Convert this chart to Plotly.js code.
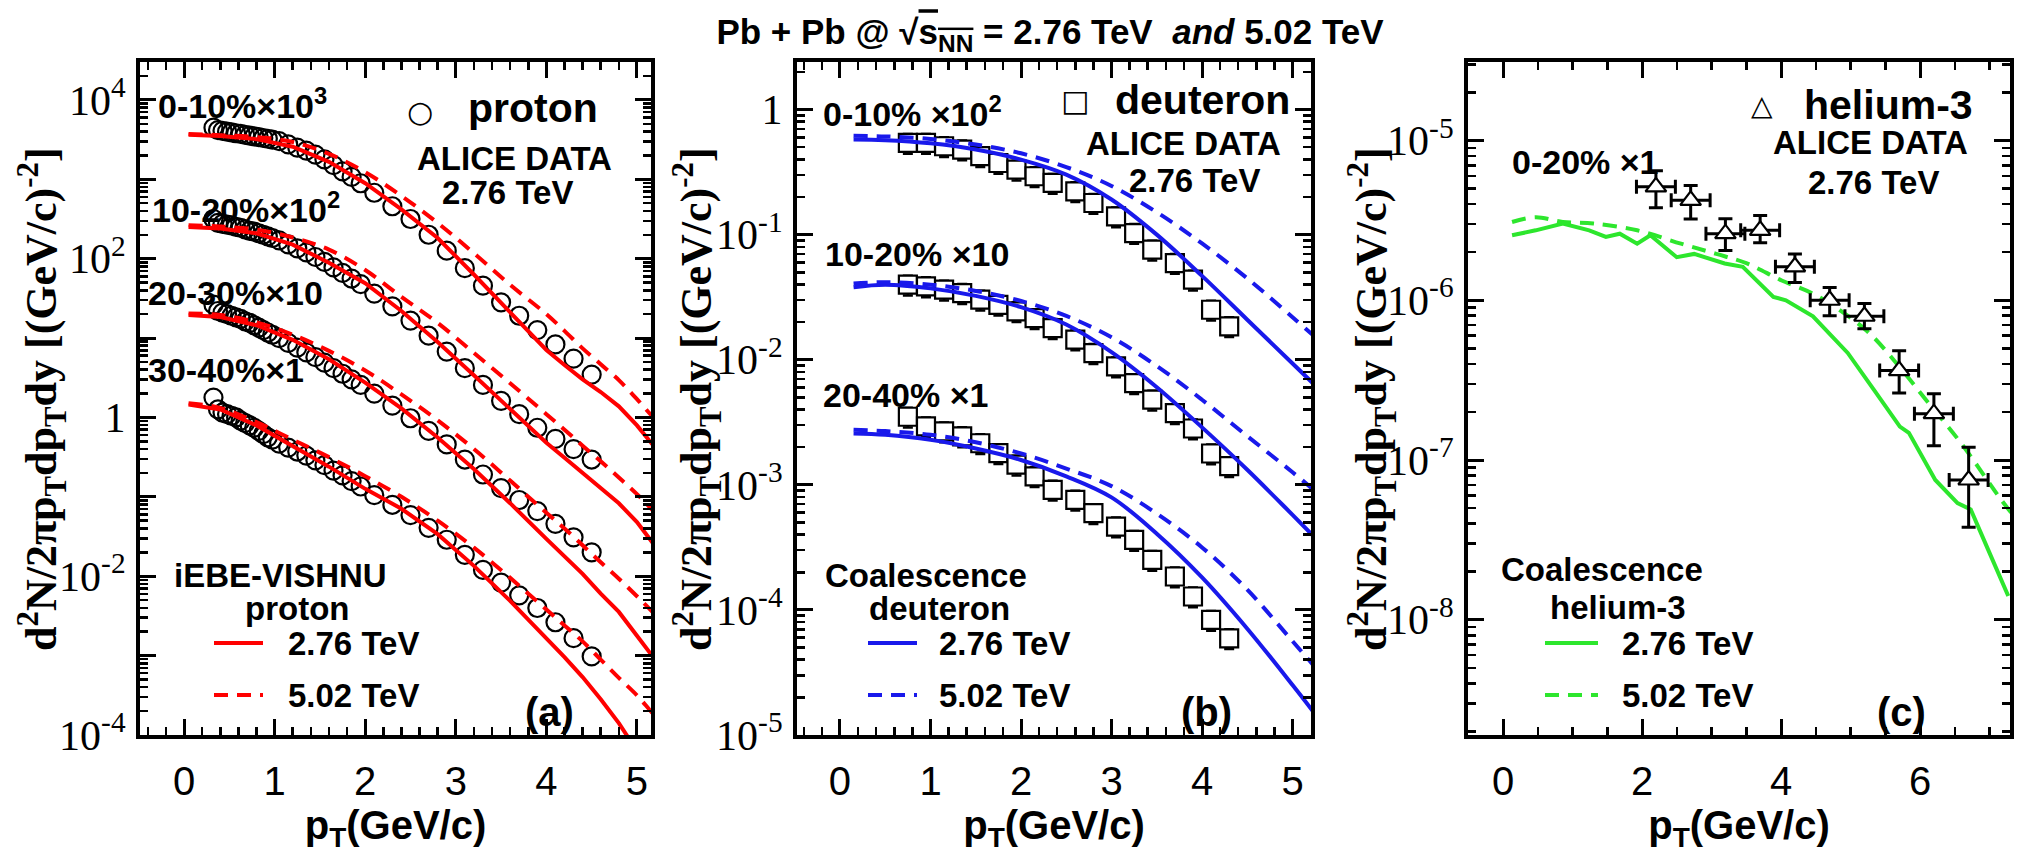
<!DOCTYPE html>
<html><head><meta charset="utf-8">
<script src="https://cdn.plot.ly/plotly-3.0.1.min.js"></script>
<style>html,body{margin:0;padding:0;background:#fff}#chart{width:2018px;height:854px}</style>
</head><body><div id="chart"></div>
<script>
// ---------------- Panel (a): protons ----------------
const pT_p = [0.325,0.375,0.425,0.475,0.525,0.575,0.625,0.675,0.725,0.775,0.825,0.875,0.925,0.975,1.05,1.15,1.25,1.35,1.45,1.55,1.65,1.75,1.85,1.95,2.1,2.3,2.5,2.7,2.9,3.1,3.3,3.5,3.7,3.9,4.1,4.3,4.5];
const p_0_10 = [4470,4170,4070,3980,3890,3800,3720,3630,3550,3470,3390,3310,3240,3160,3020,2750,2510,2290,2040,1780,1510,1260,1070,891,676,457,316,200,126,75.9,45.7,28.2,19.1,12.6,8.32,5.50,3.47];
const p_10_20 = [316,282,275,269,263,251,245,234,224,219,209,200,191,182,170,151,135,120,105,91.2,77.6,66.1,56.2,47.9,36.3,25.1,16.6,10.7,6.76,4.17,2.57,1.62,1.10,0.741,0.537,0.398,0.295];
const p_20_30 = [26.3,21.9,20.9,20.0,19.1,18.2,17.4,16.2,15.5,14.5,13.5,12.6,11.7,11.0,10.0,8.71,7.59,6.61,5.75,4.90,4.17,3.55,3.02,2.57,2.00,1.41,0.977,0.676,0.457,0.295,0.191,0.129,0.0912,0.0661,0.0457,0.0309,0.0200];
const p_30_40 = [1.78,1.26,1.15,1.10,1.05,1.00,0.912,0.851,0.794,0.741,0.676,0.617,0.562,0.525,0.468,0.417,0.372,0.331,0.288,0.251,0.214,0.186,0.158,0.135,0.105,0.0794,0.0589,0.0407,0.0288,0.0186,0.0120,0.00832,0.00575,0.00398,0.00263,0.00166,0.000977];

const pT_pm = [0.05,0.4,0.8,1.2,1.6,2.0,2.4,2.8,3.2,3.6,4.0,4.2,4.4,4.6,4.8,5.0,5.2,5.4];
const pm276_0_10 = [3630,3510,3200,2570,1660,891,417,182,63.1,21.4,7.08,4.57,3.02,2.09,1.38,0.794,0.417,0.251];
const pm502_0_10 = [3720,3590,3390,2950,2090,1230,617,282,117,46.8,20.0,12.3,7.41,4.68,2.95,1.70,0.955,0.631];
const pm276_10_20 = [251,240,209,150,89,49,21.9,8.9,3.4,1.26,0.48,0.31,0.2,0.13,0.083,0.048,0.024,0.0141];
const pm502_10_20 = [263,254,232,185,130,72,33,15.5,6.5,2.7,1.10,0.70,0.44,0.28,0.175,0.108,0.0631,0.038];
const pm276_20_30 = [19.5,18.4,14.5,9.5,5.4,2.75,1.30,0.56,0.224,0.0832,0.0295,0.0178,0.0107,0.00603,0.00355,0.00178,0.000891,0.000501];
const pm502_20_30 = [20.4,19.5,15.8,11.0,6.9,3.9,1.95,0.92,0.40,0.160,0.0630,0.0400,0.0245,0.0150,0.0093,0.0056,0.00330,0.00200];
const pm276_30_40 = [1.45,1.26,0.794,0.437,0.240,0.126,0.0708,0.0339,0.0135,0.00490,0.00166,0.000955,0.000537,0.000282,0.000141,0.0000631,0.0000316,0.0000158];
const pm502_30_40 = [1.51,1.32,0.871,0.525,0.316,0.182,0.100,0.0501,0.0229,0.00955,0.00380,0.00240,0.00151,0.000891,0.000525,0.000316,0.000174,0.000105];

// ---------------- Panel (b): deuterons ----------------
const pT_d = [0.75,0.95,1.15,1.35,1.55,1.75,1.95,2.15,2.35,2.6,2.8,3.05,3.25,3.45,3.7,3.9,4.1,4.3];
const d_0_10 = [0.541,0.541,0.509,0.479,0.424,0.374,0.331,0.293,0.259,0.222,0.179,0.140,0.103,0.0759,0.0593,0.0437,0.0251,0.0185];
const d_10_20 = [0.0398,0.0386,0.0363,0.0341,0.0302,0.0275,0.0244,0.0215,0.0179,0.0145,0.0113,0.00885,0.00650,0.00479,0.00374,0.00282,0.00178,0.00141];
const d_20_40 = [0.0035,0.00293,0.00267,0.00244,0.00215,0.00179,0.00145,0.00117,0.000912,0.000759,0.000593,0.000464,0.000363,0.000251,0.000185,0.000128,0.0000832,0.0000593];

const pT_dm = [0.15,0.5,1.0,1.5,2.0,2.5,3.0,3.5,4.0,4.5,5.0,5.3];
const dm276_0_10 = [0.575,0.569,0.537,0.479,0.398,0.302,0.191,0.100,0.0468,0.0209,0.00933,0.00575];
const dm502_0_10 = [0.617,0.610,0.582,0.525,0.447,0.347,0.245,0.151,0.0851,0.0447,0.0219,0.0141];
const dm276_10_20 = [0.0380,0.0398,0.0372,0.0324,0.0263,0.0191,0.0115,0.00603,0.00288,0.00132,0.000575,0.000347];
const dm502_10_20 = [0.0407,0.0417,0.0398,0.0355,0.0295,0.0224,0.0151,0.00891,0.00479,0.00245,0.00126,0.000832];
const dm276_20_40 = [0.00257,0.00251,0.00229,0.00195,0.00158,0.00117,0.000794,0.000407,0.000182,0.0000708,0.0000251,0.0000132];
const dm502_20_40 = [0.00275,0.00269,0.00251,0.00219,0.00178,0.00135,0.000977,0.000589,0.000316,0.000145,0.0000562,0.0000316];

// ---------------- Panel (c): helium-3 ----------------
const pT_h = [2.2,2.7,3.2,3.7,4.2,4.7,5.2,5.7,6.2,6.7];
const h_0_20 = [5.13e-6,4.22e-6,2.61e-6,2.74e-6,1.62e-6,1.0e-6,7.94e-7,3.63e-7,1.95e-7,7.5e-8];
const h_err_plus = [1.33e-6,1.0e-6,0.63e-6,0.65e-6,0.33e-6,0.2e-6,1.6e-7,1.2e-7,0.65e-7,4.5e-8];
const h_err_minus = [1.33e-6,1.0e-6,0.56e-6,0.45e-6,0.33e-6,0.2e-6,1.3e-7,1.0e-7,0.72e-7,3.7e-8];
const h_err_x = 0.28;

const pT_hm276 = [0.13,0.47,0.86,1.24,1.48,1.68,1.93,2.12,2.50,2.75,3.19,3.45,3.89,4.07,4.46,4.96,5.34,5.71,5.84,6.22,6.54,6.73,6.98,7.27];
const hm276 = [2.55e-6,2.74e-6,3.02e-6,2.74e-6,2.49e-6,2.61e-6,2.26e-6,2.55e-6,1.86e-6,1.95e-6,1.70e-6,1.62e-6,1.05e-6,1.0e-6,7.94e-7,4.68e-7,2.74e-7,1.62e-7,1.48e-7,7.50e-8,5.37e-8,4.90e-8,2.75e-8,1.41e-8];
const pT_hm502 = [0.13,0.47,0.86,1.30,1.93,2.56,3.07,3.51,4.01,4.46,4.84,5.28,5.71,6.09,6.6,7.17,7.35];
const hm502 = [3.09e-6,3.31e-6,3.09e-6,3.02e-6,2.74e-6,2.26e-6,1.95e-6,1.70e-6,1.33e-6,1.10e-6,8.71e-7,6.17e-7,3.80e-7,2.37e-7,1.26e-7,5.62e-8,4.47e-8];

// ---------------- layout helpers ----------------
const W=2018, H=854, ML=140, MR=8, MT=62, MB=119;
const PW=W-ML-MR, PH=H-MT-MB;
const X = px => (px-ML)/PW;
const Y = py => (H-MB-py)/PH;

const RED='rgb(255,0,0)', BLUE='rgb(25,25,235)', GREEN='rgb(45,230,45)';
const DASH='14px,9px';
const SANS='Liberation Sans, Arial, DejaVu Sans, sans-serif';
const SERIF='Liberation Serif, Times New Roman, serif';

function dataTrace(x,y,ax,marker,extra){
  return Object.assign({type:'scatter',mode:'markers',x:x,y:y,xaxis:'x'+ax,yaxis:'y'+ax,marker:marker,hoverinfo:'skip'},extra||{});
}
function lineTrace(x,y,ax,color,dashed,shape){
  return {type:'scatter',mode:'lines',x:x,y:y,xaxis:'x'+ax,yaxis:'y'+ax,
    line:{color:color,width:4,dash:dashed?DASH:'solid',shape:shape||'linear',smoothing:1},hoverinfo:'skip'};
}
const circ={symbol:'circle-open',size:18,color:'black',line:{width:2.2,color:'black'}};
const sq={symbol:'square',size:18,color:'white',line:{width:2.2,color:'black'}};
const sqErr={type:'percent',value:18,color:'black',thickness:2.5,width:5};

const traces=[
  dataTrace(pT_p,p_0_10,'',circ), dataTrace(pT_p,p_10_20,'',circ),
  dataTrace(pT_p,p_20_30,'',circ), dataTrace(pT_p,p_30_40,'',circ),
  lineTrace(pT_pm,pm276_0_10,'',RED,false), lineTrace(pT_pm,pm502_0_10,'',RED,true,'spline'),
  lineTrace(pT_pm,pm276_10_20,'',RED,false), lineTrace(pT_pm,pm502_10_20,'',RED,true,'spline'),
  lineTrace(pT_pm,pm276_20_30,'',RED,false), lineTrace(pT_pm,pm502_20_30,'',RED,true,'spline'),
  lineTrace(pT_pm,pm276_30_40,'',RED,false), lineTrace(pT_pm,pm502_30_40,'',RED,true,'spline'),

  dataTrace(pT_d,d_0_10,'2',sq,{error_y:sqErr}), dataTrace(pT_d,d_10_20,'2',sq,{error_y:sqErr}),
  dataTrace(pT_d,d_20_40,'2',sq,{error_y:sqErr}),
  lineTrace(pT_dm,dm276_0_10,'2',BLUE,false,'spline'), lineTrace(pT_dm,dm502_0_10,'2',BLUE,true,'spline'),
  lineTrace(pT_dm,dm276_10_20,'2',BLUE,false,'spline'), lineTrace(pT_dm,dm502_10_20,'2',BLUE,true,'spline'),
  lineTrace(pT_dm,dm276_20_40,'2',BLUE,false,'spline'), lineTrace(pT_dm,dm502_20_40,'2',BLUE,true,'spline'),

  lineTrace(pT_hm276,hm276,'3',GREEN,false), lineTrace(pT_hm502,hm502,'3',GREEN,true,'spline'),
  dataTrace(pT_h,h_0_20,'3',{symbol:'triangle-up',size:18,color:'white',line:{width:2.2,color:'black'}},
    {error_y:{type:'data',array:h_err_plus,arrayminus:h_err_minus,symmetric:false,color:'black',thickness:3,width:7},
     error_x:{type:'constant',value:h_err_x,color:'black',thickness:3,width:7}})
];

function minorLog(lo,hi){const v=[];for(let d=lo;d<=hi;d++){for(let m=2;m<=9;m++)v.push(m*Math.pow(10,d));}return v;}
function decades(lo,hi){const v=[];for(let d=lo;d<=hi;d++)v.push(Math.pow(10,d));return v;}
function expLabel(d){return d===0?'1':'10<sup>'+d+'</sup>';}

const tickFontY={family:SERIF,size:42,color:'black'};
const tickFontX={family:SANS,size:40,color:'black'};
const common={showline:true,linecolor:'black',linewidth:4,mirror:'allticks',ticks:'inside',ticklen:16,tickwidth:3,tickcolor:'black',showgrid:false,zeroline:false,fixedrange:true};

function xAxis(dom,range,dtick,minorD){
  return Object.assign({},common,{domain:dom,range:range,dtick:dtick,tick0:0,tickfont:tickFontX,ticklabelstandoff:8,
    minor:{ticks:'inside',ticklen:8,tickwidth:2.5,tickcolor:'black',dtick:minorD,tick0:0,showgrid:false}});
}
function yAxis(anchor,lo,hi,rangeLo,rangeHi,labelEvery){
  const tv=decades(lo,hi);
  const tt=tv.map((v,i)=>{const d=lo+i;return ((d-lo)%labelEvery===0)?expLabel(d):'';});
  return Object.assign({},common,{anchor:anchor,type:'log',range:[rangeLo,rangeHi],tickmode:'array',tickvals:tv,ticktext:tt,
    tickfont:tickFontY,ticklabelstandoff:2,
    minor:{ticks:'inside',ticklen:8,tickwidth:2.5,tickcolor:'black',tickmode:'array',tickvals:minorLog(lo-1,hi),showgrid:false}});
}

const xTitle=(t)=>({text:'<b>'+t+'</b>',font:{family:SANS,size:40,color:'black'},standoff:6});
const PTT='p<sub>T</sub>(GeV/c)';

const layout={
  width:W,height:H,margin:{l:ML,r:MR,t:MT,b:MB},paper_bgcolor:'white',plot_bgcolor:'white',showlegend:false,hovermode:false,
  title:{text:'<b>Pb + Pb @ √<span style="text-decoration:overline">s<sub>NN</sub></span> = 2.76 TeV  <i>and</i> 5.02 TeV</b>',
    font:{family:SANS,size:35,color:'black'},xref:'container',yref:'container',x:1050/W,y:1-32/H,xanchor:'center',yanchor:'middle'},
  xaxis:Object.assign(xAxis([X(140),X(651)],[-0.486,5.155],1,0.2),{anchor:'y',title:xTitle(PTT)}),
  yaxis:yAxis('x',-4,4,-4,Math.log10(3e4),2),
  xaxis2:Object.assign(xAxis([X(797),X(1311)],[-0.475,5.204],1,0.2),{anchor:'y2',title:xTitle(PTT)}),
  yaxis2:yAxis('x2',-5,0,-5,Math.log10(2.4),1),
  xaxis3:Object.assign(xAxis([X(1468),X(2010)],[-0.504,7.295],2,0.5),{anchor:'y3',title:xTitle(PTT)}),
  yaxis3:yAxis('x3',-8,-5,Math.log10(1.9e-9),Math.log10(3.1e-5),1),
  annotations:[],shapes:[]
};

function ann(text,x,y,size,opts){
  layout.annotations.push(Object.assign({text:text,xref:'paper',yref:'paper',x:X(x),y:Y(y),xanchor:'left',yanchor:'middle',
    showarrow:false,font:{family:SANS,size:size,color:'black'}},opts||{}));
}
function b(t){return '<b>'+t+'</b>';}
const YT='<b>d<sup>2</sup>N/2πp<sub>T</sub>dp<sub>T</sub>dy [(GeV/c)<sup>-2</sup>]</b>';
[42,697,1372].forEach(cx=>ann(YT,cx,399,44,{xanchor:'center',textangle:-90,font:{family:SERIF,size:44,color:'black'}}));

// panel a
ann(b('0-10%×10<sup>3</sup>'),156,103,34);
ann(b('10-20%×10<sup>2</sup>'),150,207,34);
ann(b('20-30%×10'),146,293,34);
ann(b('30-40%×1'),146,370,34);
ann('○',420,112,30,{xanchor:'center',font:{family:'DejaVu Sans',size:30,color:'black'}});
ann(b('proton'),466,108,41);
ann(b('ALICE DATA'),415,158,33);
ann(b('2.76 TeV'),440,193,33);
ann(b('iEBE-VISHNU'),172,575,33);
ann(b('proton'),297,608,33,{xanchor:'center'});
ann(b('2.76 TeV'),286,643,33);
ann(b('5.02 TeV'),286,695,33);
ann(b('(a)'),549,712,40,{xanchor:'center'});
// panel b
ann(b('0-10% ×10<sup>2</sup>'),821,112,34);
ann('□',1075,100,30,{xanchor:'center',font:{family:'DejaVu Sans',size:30,color:'black'}});
ann(b('deuteron'),1113,100,41);
ann(b('ALICE DATA'),1084,143,33);
ann(b('2.76 TeV'),1127,180,33);
ann(b('10-20% ×10'),823,254,34);
ann(b('20-40% ×1'),821,395,34);
ann(b('Coalescence'),823,575,33);
ann(b('deuteron'),939,608,33,{xanchor:'center'});
ann(b('2.76 TeV'),937,643,33);
ann(b('5.02 TeV'),937,695,33);
ann(b('(b)'),1206,712,40,{xanchor:'center'});
// panel c
ann('△',1762,105,28,{xanchor:'center',font:{family:'DejaVu Sans',size:28,color:'black'}});
ann(b('helium-3'),1802,105,41);
ann(b('ALICE DATA'),1771,142,33);
ann(b('2.76 TeV'),1806,182,33);
ann(b('0-20% ×1'),1510,162,34);
ann(b('Coalescence'),1499,569,33);
ann(b('helium-3'),1618,607,33,{xanchor:'center'});
ann(b('2.76 TeV'),1620,643,33);
ann(b('5.02 TeV'),1620,695,33);
ann(b('(c)'),1901,712,40,{xanchor:'center'});

function keyLine(x0,x1,y,color,dashed){
  layout.shapes.push({type:'line',xref:'paper',yref:'paper',x0:X(x0),x1:X(x1),y0:Y(y),y1:Y(y),
    line:{color:color,width:4,dash:dashed?DASH:'solid'}});
}
keyLine(214,263,643,RED,false); keyLine(214,263,695,RED,true);
keyLine(868,917,643,BLUE,false); keyLine(868,917,695,BLUE,true);
keyLine(1545,1598,643,GREEN,false); keyLine(1545,1598,695,GREEN,true);

Plotly.newPlot('chart',traces,layout,{displayModeBar:false,staticPlot:true});
</script></body></html>
